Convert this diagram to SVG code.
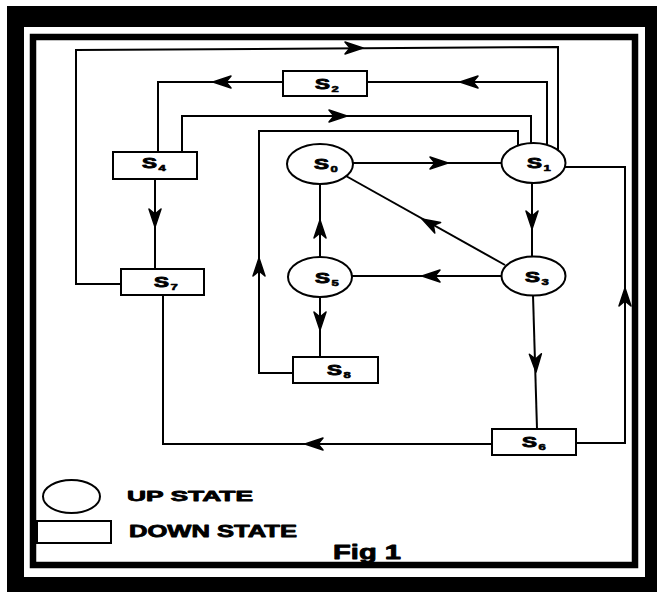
<svg xmlns="http://www.w3.org/2000/svg" xmlns:xlink="http://www.w3.org/1999/xlink" width="657" height="592" viewBox="0 0 657 592">
<style>
.node{fill:#fff;stroke:#000;stroke-width:2}
.conn{fill:none;stroke:#000;stroke-width:2}
.lbl{font-family:"Liberation Sans",Arial,sans-serif;font-weight:bold;font-size:15.5px;fill:#000;stroke:#000;stroke-width:0.9px;stroke-linejoin:round}
.sub{font-size:9px;stroke-width:0.6px}
.leg{font-family:"Liberation Sans",Arial,sans-serif;font-weight:bold;fill:#000;stroke:#000;stroke-width:0.8px;stroke-linejoin:round}
</style>
<defs>
<path id="ah" d="M0,0 L-18,-6 L-13,0 L-18,6 Z" fill="#000" stroke="#000" stroke-width="1.5" stroke-linejoin="round"/>
</defs>
<rect x="0" y="0" width="657" height="592" fill="#fff"/>
<rect x="7" y="6" width="650" height="586" fill="#000"/>
<rect x="24" y="27" width="621" height="550" fill="#fff"/>
<rect x="33" y="37" width="602" height="528" fill="none" stroke="#000" stroke-width="6.5"/>
<g id="connectors">
<path class="conn" d="M121,284 H76 V50 L558,47 V151"/>
<use xlink:href="#ah" transform="translate(363,48)"/>
<path class="conn" d="M547,145 V82 H367"/>
<use xlink:href="#ah" transform="translate(460,82) rotate(180)"/>
<path class="conn" d="M283,82 H158 V152"/>
<use xlink:href="#ah" transform="translate(213,82) rotate(180)"/>
<path class="conn" d="M182,152 V116 H531 V143"/>
<use xlink:href="#ah" transform="translate(347,116)"/>
<path class="conn" d="M293,373 H259 V131 H518 V146"/>
<use xlink:href="#ah" transform="translate(259,258) rotate(-90)"/>
<path class="conn" d="M353,163 H501"/>
<use xlink:href="#ah" transform="translate(448,163)"/>
<path class="conn" d="M532,183 V257"/>
<use xlink:href="#ah" transform="translate(532,229) rotate(90)"/>
<path class="conn" d="M505,265 L346,176"/>
<use xlink:href="#ah" transform="translate(422,219) rotate(209.2)"/>
<path class="conn" d="M502,276 H352"/>
<use xlink:href="#ah" transform="translate(422,276) rotate(180)"/>
<path class="conn" d="M320,257 V184"/>
<use xlink:href="#ah" transform="translate(320,220) rotate(-90)"/>
<path class="conn" d="M320,297 V357"/>
<use xlink:href="#ah" transform="translate(320,330) rotate(90)"/>
<path class="conn" d="M533,295 L537,429"/>
<use xlink:href="#ah" transform="translate(536,372) rotate(88)"/>
<path class="conn" d="M576,443 H625 V167 H565"/>
<use xlink:href="#ah" transform="translate(625,288) rotate(-90)"/>
<path class="conn" d="M492,444 H163 V295"/>
<use xlink:href="#ah" transform="translate(305,444) rotate(180)"/>
<path class="conn" d="M155,179 V269"/>
<use xlink:href="#ah" transform="translate(155,227) rotate(90)"/>
</g>
<g id="S0"><ellipse class="node" cx="320" cy="164" rx="33" ry="20"/><text class="lbl" transform="translate(314,169) scale(1.45,1)">S<tspan class="sub" dx="1" dy="3">0</tspan></text></g>
<g id="S1"><ellipse class="node" cx="533.5" cy="163" rx="32" ry="20"/><text class="lbl" transform="translate(527,168) scale(1.45,1)">S<tspan class="sub" dx="1" dy="3">1</tspan></text></g>
<g id="S2"><rect class="node" x="283" y="71" width="84" height="25"/><text class="lbl" transform="translate(315,89) scale(1.45,1)">S<tspan class="sub" dx="1" dy="3">2</tspan></text></g>
<g id="S3"><ellipse class="node" cx="533.5" cy="276" rx="32" ry="19.5"/><text class="lbl" transform="translate(525,282) scale(1.45,1)">S<tspan class="sub" dx="1" dy="3">3</tspan></text></g>
<g id="S4"><rect class="node" x="113" y="152" width="84" height="27"/><text class="lbl" transform="translate(142,168) scale(1.45,1)">S<tspan class="sub" dx="1" dy="3">4</tspan></text></g>
<g id="S5"><ellipse class="node" cx="320" cy="277" rx="32" ry="20"/><text class="lbl" transform="translate(315,283) scale(1.45,1)">S<tspan class="sub" dx="1" dy="3">5</tspan></text></g>
<g id="S6"><rect class="node" x="492" y="429" width="84" height="26"/><text class="lbl" transform="translate(522,447) scale(1.45,1)">S<tspan class="sub" dx="1" dy="3">6</tspan></text></g>
<g id="S7"><rect class="node" x="121" y="269" width="83" height="26"/><text class="lbl" transform="translate(154,287) scale(1.45,1)">S<tspan class="sub" dx="1" dy="3">7</tspan></text></g>
<g id="S8"><rect class="node" x="293" y="357" width="85" height="26"/><text class="lbl" transform="translate(327,375) scale(1.45,1)">S<tspan class="sub" dx="1" dy="3">8</tspan></text></g>
<g id="legend">
<ellipse class="node" cx="71.5" cy="496.5" rx="28.5" ry="16.5"/>
<rect class="node" x="37" y="521" width="74" height="22"/>
<text class="leg" x="127" y="501" font-size="15" textLength="126" lengthAdjust="spacingAndGlyphs">UP STATE</text>
<text class="leg" x="129" y="537" font-size="16.5" textLength="168" lengthAdjust="spacingAndGlyphs">DOWN STATE</text>
<text class="leg" x="333" y="559" font-size="19.5" textLength="68" lengthAdjust="spacingAndGlyphs">Fig 1</text>
</g>
</svg>
